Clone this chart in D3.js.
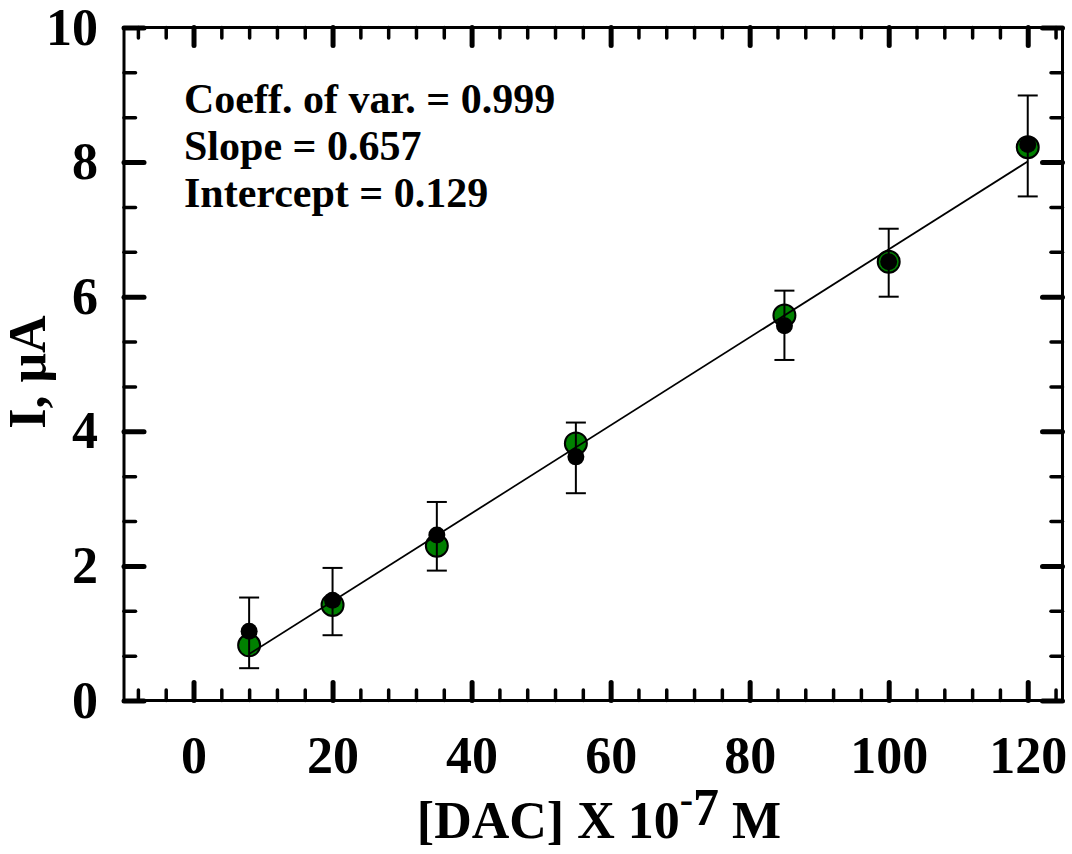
<!DOCTYPE html>
<html lang="en">
<head>
<meta charset="utf-8">
<script src="https://cdnjs.cloudflare.com/ajax/libs/d3/7.8.5/d3.min.js"></script>
<style>
  body { margin: 0; background: #ffffff; }
  svg text { font-family: "Liberation Serif", "Times New Roman", serif; font-weight: bold; fill: #000; }
</style>
</head>
<body>
<svg id="chart"></svg>
<script>
// data
var concX      = [8, 20, 35, 55, 85, 100, 120];
var currGreen  = [0.82, 1.42, 2.30, 3.82, 5.72, 6.52, 8.22];
var currBlack  = [1.03, 1.49, 2.46, 3.62, 5.57, 6.52, 8.26];
var errLow     = [0.48, 0.97, 1.93, 3.08, 5.06, 6.00, 7.49];
var errHigh    = [1.53, 1.97, 2.95, 4.13, 6.09, 7.01, 8.99];
var fitX       = [8, 120];
var fitY       = [0.69, 8.01];
var xMajor     = [0, 20, 40, 60, 80, 100, 120];
var yMajor     = [0, 2, 4, 6, 8, 10];
var statLines  = ["Coeff. of var. = 0.999", "Slope = 0.657", "Intercept = 0.129"];

var W = 1072, H = 854;
var plotL = 124, plotR = 1062.5, plotT = 27.5, plotB = 700.5;

var svg = d3.select("#chart").attr("width", W).attr("height", H);

var x = d3.scaleLinear().domain([-10, 125]).range([plotL, plotR]);
var y = d3.scaleLinear().domain([0, 10]).range([plotB, plotT]);

// minor ticks: x every 4, y every 2/3
var xMinor = d3.range(-8, 125, 4).filter(function(d) { return d % 20 !== 0; });
var yMinor = d3.range(1, 15).filter(function(i) { return i % 3 !== 0; }).map(function(i) { return i * 2 / 3; });

function tickAxis(axisFn, scale, vals, size, width, tx, ty) {
  var g = svg.append("g")
    .attr("transform", "translate(" + tx + "," + ty + ")")
    .call(axisFn(scale).tickValues(vals).tickSize(-size).tickFormat(""));
  g.select(".domain").remove();
  g.selectAll(".tick line")
    .attr("stroke", "#000")
    .attr("stroke-width", width)
    .attr("stroke-linecap", "round");
}

// ticks on all four sides, pointing inward
tickAxis(d3.axisBottom, x, xMajor, 18, 5, 0, plotB);
tickAxis(d3.axisBottom, x, xMinor, 10.5, 3.5, 0, plotB);
tickAxis(d3.axisTop, x, xMajor, 18, 5, 0, plotT);
tickAxis(d3.axisTop, x, xMinor, 10.5, 3.5, 0, plotT);
tickAxis(d3.axisLeft, y, yMajor, 20, 5, plotL, 0);
tickAxis(d3.axisLeft, y, yMinor, 11.5, 3.5, plotL, 0);
tickAxis(d3.axisRight, y, yMajor, 20, 5, plotR, 0);
tickAxis(d3.axisRight, y, yMinor, 11.5, 3.5, plotR, 0);

// frame
svg.append("rect")
  .attr("x", plotL).attr("y", plotT)
  .attr("width", plotR - plotL).attr("height", plotB - plotT)
  .attr("fill", "none").attr("stroke", "#000").attr("stroke-width", 3);

// tick labels
var xLab = svg.append("g")
  .attr("transform", "translate(0," + plotB + ")")
  .call(d3.axisBottom(x).tickValues(xMajor).tickSize(0));
xLab.select(".domain").remove();
xLab.selectAll("text")
  .attr("dy", null).attr("y", 72.5)
  .style("font-size", "52px");

var yLab = svg.append("g")
  .attr("transform", "translate(" + plotL + ",0)")
  .call(d3.axisLeft(y).tickValues(yMajor).tickSize(0).tickPadding(26));
yLab.select(".domain").remove();
yLab.selectAll("text").style("font-size", "52px");

// axis titles
var xt = svg.append("text")
  .attr("x", 599).attr("y", 838)
  .attr("text-anchor", "middle")
  .style("font-size", "52px");
xt.append("tspan").text("[DAC] X 10");
xt.append("tspan").attr("dy", -25).style("font-size", "40px").text("-");
xt.append("tspan").attr("dy", 12).text("7");
xt.append("tspan").attr("dy", 13).text(" M");

svg.append("text")
  .attr("transform", "translate(45,372) rotate(-90)")
  .attr("text-anchor", "middle")
  .style("font-size", "52px")
  .text("I, \u03BCA");

// statistics text
svg.append("g").selectAll("text")
  .data(statLines)
  .join("text")
  .attr("x", 184)
  .attr("y", function(d, i) { return 113 + i * 47; })
  .style("font-size", "42px")
  .text(function(d) { return d; });

var idx = d3.range(concX.length);

// green markers
svg.append("g").selectAll("circle")
  .data(idx)
  .join("circle")
  .attr("cx", function(i) { return x(concX[i]); })
  .attr("cy", function(i) { return y(currGreen[i]); })
  .attr("r", 11)
  .attr("fill", "#008000")
  .attr("stroke", "#000")
  .attr("stroke-width", 2);

// fitted line
svg.append("path")
  .datum(d3.range(fitX.length))
  .attr("fill", "none")
  .attr("stroke", "#000")
  .attr("stroke-width", 1.8)
  .attr("d", d3.line()
    .x(function(i) { return x(fitX[i]); })
    .y(function(i) { return y(fitY[i]); }));

// error bars
var eb = svg.append("g").attr("stroke", "#000").attr("stroke-width", 2);
eb.selectAll(".v").data(idx).join("line").attr("class", "v")
  .attr("x1", function(i) { return x(concX[i]); })
  .attr("x2", function(i) { return x(concX[i]); })
  .attr("y1", function(i) { return y(errLow[i]); })
  .attr("y2", function(i) { return y(errHigh[i]); });
eb.selectAll(".lo").data(idx).join("line").attr("class", "lo")
  .attr("x1", function(i) { return x(concX[i]) - 10; })
  .attr("x2", function(i) { return x(concX[i]) + 10; })
  .attr("y1", function(i) { return y(errLow[i]); })
  .attr("y2", function(i) { return y(errLow[i]); });
eb.selectAll(".hi").data(idx).join("line").attr("class", "hi")
  .attr("x1", function(i) { return x(concX[i]) - 10; })
  .attr("x2", function(i) { return x(concX[i]) + 10; })
  .attr("y1", function(i) { return y(errHigh[i]); })
  .attr("y2", function(i) { return y(errHigh[i]); });

// black markers
svg.append("g").selectAll("circle")
  .data(idx)
  .join("circle")
  .attr("cx", function(i) { return x(concX[i]); })
  .attr("cy", function(i) { return y(currBlack[i]); })
  .attr("r", 8.5)
  .attr("fill", "#000");
</script>
</body>
</html>
